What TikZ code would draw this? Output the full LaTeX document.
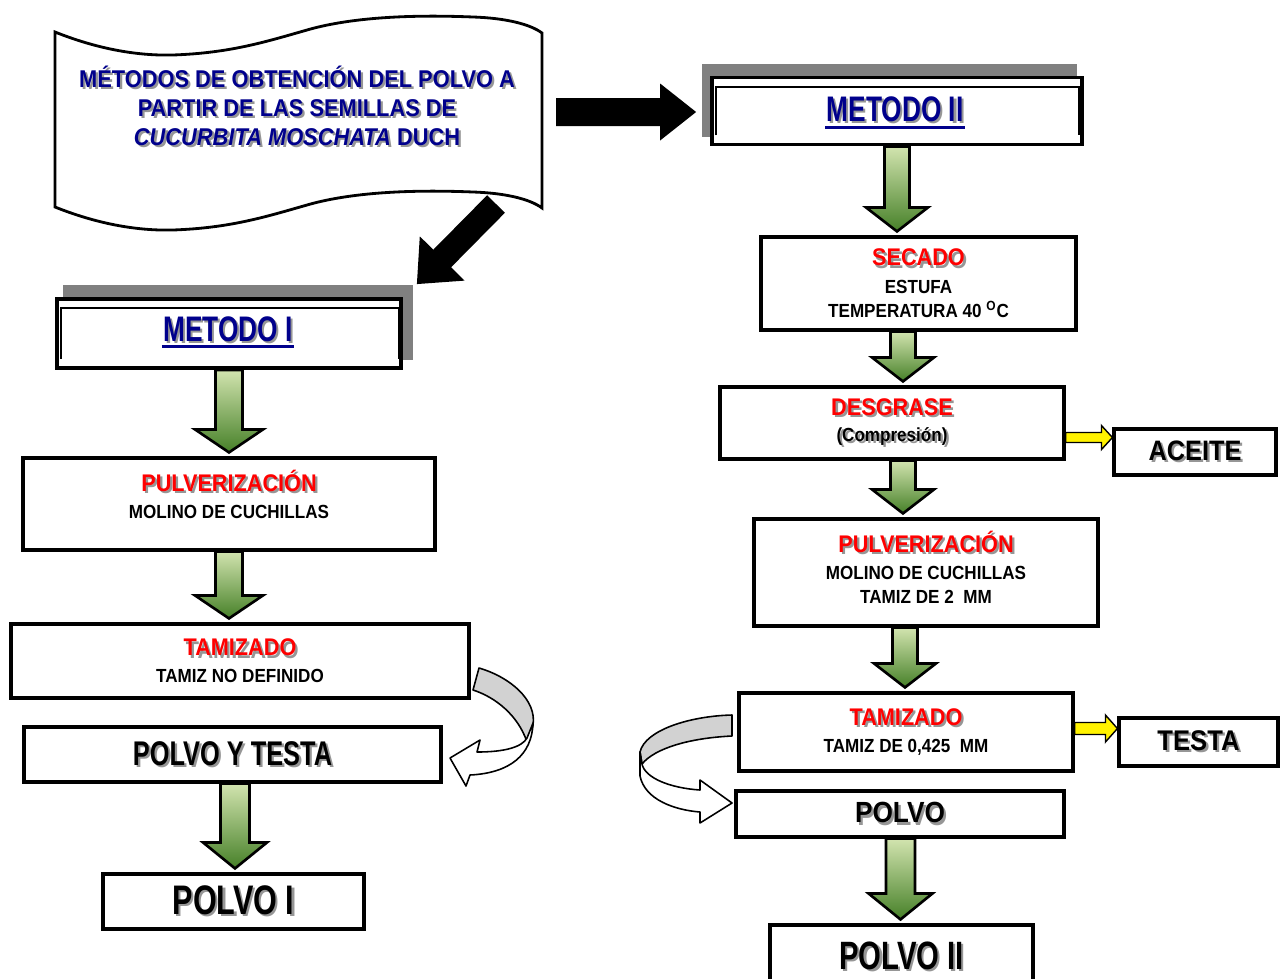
\documentclass[tikz,border=0pt]{standalone}
\usepackage{fontspec}
\setmainfont{Liberation Sans}[FakeStretch=0.9]
\newfontfamily\condfont{Liberation Sans}[FakeStretch=0.74]
\usepackage{tikz}
\usetikzlibrary{calc,positioning}
\usepackage{xcolor}

\definecolor{titleblue}{RGB}{0,0,140}
\definecolor{shadowgray}{RGB}{150,150,150}
\definecolor{boxshadow}{RGB}{128,128,128}
\definecolor{greenlight}{RGB}{210,228,175}
\definecolor{greendark}{RGB}{70,128,40}
\definecolor{bandgray}{RGB}{210,210,210}

\newcommand{\shtext}[2]{\makebox[0pt][l]{\hspace*{1.3pt}\raisebox{-1.3pt}{\textcolor{shadowgray}{#2}}}\textcolor{#1}{#2}}
\newcommand{\hdr}[1]{{\fontsize{13.7}{15}\selectfont\shtext{red}{#1}}}
% flecha gruesa: estilo, inicio, fin, medio ancho, medio ancho punta, largo punta
\newcommand{\fatarrow}[6]{%
  \path #2 coordinate (fa-s) #3 coordinate (fa-t);
  \coordinate (fa-h) at ($(fa-t)!#6!(fa-s)$);
  \path [#1] ($(fa-s)!#4!90:(fa-t)$) -- ($(fa-h)!#4!90:(fa-t)$) -- ($(fa-h)!#5!90:(fa-t)$) -- (fa-t)
    -- ($(fa-h)!#5!-90:(fa-t)$) -- ($(fa-h)!#4!-90:(fa-t)$) -- ($(fa-s)!#4!-90:(fa-t)$) -- cycle;}

\begin{document}
\begin{tikzpicture}[x=0.02cm, y=-0.02cm,
  box/.style={draw, line width=1.8pt, fill=white, align=center, inner sep=0pt, font=\bfseries\fontsize{10.8}{13.8}\selectfont},
  titlebox/.style={draw, line width=2.2pt, fill=white},
  titletext/.style={anchor=base, inner sep=0pt, font=\condfont\bfseries\fontsize{20.2}{22}\selectfont},
  innerline/.style={line width=1.1pt},
  greenarrow/.style={draw=black, line width=1.5pt, top color=greenlight, bottom color=greendark},
  yellowarrow/.style={draw=black, line width=0.8pt, fill=yellow},
  curvedline/.style={draw=black, line width=0.9pt, line join=round}]
\useasboundingbox (0,0) rectangle (1280,978);

\draw [line width=1.6pt, fill=white] (55,32) .. controls (95,48) and (135,56) .. (173,55) .. controls (230,53) and (265,42) .. (307,30) .. controls (345,19) and (400,14) .. (473,17) .. controls (505,18) and (530,24) .. (542,33) -- (542,208) .. controls (530,199) and (505,193) .. (473,192) .. controls (400,189) and (345,194) .. (307,205) .. controls (265,217) and (230,228) .. (173,230) .. controls (135,231) and (95,223) .. (55,207) -- cycle;
\node [align=center, inner sep=0pt, font=\bfseries\fontsize{13.8}{16.5}\selectfont] (titulo) at (297,107) {\shtext{titleblue}{MÉTODOS DE OBTENCIÓN DEL POLVO A}\\ \shtext{titleblue}{PARTIR DE LAS SEMILLAS DE}\\ \shtext{titleblue}{\textit{CUCURBITA MOSCHATA} DUCH}};
\coordinate (bannerE) at (556,112);
\coordinate (bannerS) at (496,204);

% metodo I
\fill [boxshadow] (63,285) rectangle (413,360);
\node [titlebox, minimum width=6.88cm, minimum height=1.38cm] (m1) at (229,333.5) {};
\draw [innerline] ($(m1.south west)+(6,-11)$) |- ($(m1.north east)+(-4,11)$) -- ($(m1.south east)+(-4,-11)$);
\node [titletext] (m1l) at (228,341.7) {\shtext{titleblue}{METODO I}};
\draw [titleblue, line width=1.5pt] ($(m1l.base west)+(-1,5)$) -- ($(m1l.base east)+(1,5)$);

\node [box, minimum width=8.24cm, minimum height=1.84cm, text depth=11pt] (p1) at (229,504) {\hdr{PULVERIZACIÓN}\\[1.5pt] MOLINO DE CUCHILLAS};
\node [box, minimum width=9.16cm, minimum height=1.48cm] (t1) at (240,661) {\hdr{TAMIZADO}\\[1.5pt] TAMIZ NO DEFINIDO};
\node [box, minimum width=8.34cm, minimum height=1.1cm, font=\condfont\bfseries\fontsize{19.5}{21}\selectfont] (pt) at (232.5,754.5) {\shtext{black}{POLVO Y TESTA}};
\node [box, minimum width=5.22cm, minimum height=1.1cm, font=\condfont\bfseries\fontsize{23.5}{25}\selectfont] (pI) at (233.5,901.5) {\shtext{black}{POLVO I}};

% metodo II
\fill [boxshadow] (701.5,64.4) rectangle (1076.6,137);
\node [titlebox, minimum width=7.4cm, minimum height=1.34cm] (m2) at (897,111) {};
\draw [innerline] ($(m2.south west)+(6,-11)$) |- ($(m2.north east)+(-5,11.5)$) -- ($(m2.south east)+(-5,-11)$);
\node [titletext] (m2l) at (895,121.5) {\shtext{titleblue}{METODO II}};
\draw [titleblue, line width=1.5pt] ($(m2l.base west)+(-1,6)$) -- ($(m2l.base east)+(1,6)$);

\node [box, minimum width=6.3cm, minimum height=1.86cm] (sec) at (918.5,283.5) {\hdr{SECADO}\\[2pt] ESTUFA\\ TEMPERATURA 40 \textsuperscript{O}C};
\node [box, minimum width=6.88cm, minimum height=1.44cm] (des) at (892,423) {\hdr{DESGRASE}\\[1pt] \shtext{black}{(Compresión)}};
\node [box, minimum width=3.24cm, minimum height=0.92cm, font=\bfseries\fontsize{16}{18}\selectfont] (ace) at (1195,452) {\shtext{black}{ACEITE}};
\node [box, minimum width=6.88cm, minimum height=2.14cm, text depth=6pt] (p2) at (926,572.5) {\hdr{PULVERIZACIÓN}\\[1.5pt] MOLINO DE CUCHILLAS\\ TAMIZ DE 2\ \ MM};
\node [box, minimum width=6.68cm, minimum height=1.56cm] (t2) at (906,732) {\hdr{TAMIZADO}\\[2pt] TAMIZ DE 0,425\ \ MM};
\node [box, minimum width=3.18cm, minimum height=0.96cm, font=\bfseries\fontsize{16.2}{18}\selectfont] (tes) at (1198.5,742) {\shtext{black}{TESTA}};
\node [box, minimum width=6.56cm, minimum height=0.92cm, font=\bfseries\fontsize{16.6}{18}\selectfont] (pol) at (900,814) {\shtext{black}{POLVO}};
\node [box, minimum width=5.26cm, minimum height=1.28cm, font=\condfont\bfseries\fontsize{22.5}{24}\selectfont] (p2f) at (901.5,957) {\shtext{black}{POLVO II}};

% flechas negras
\fatarrow{fill=black}{(bannerE)}{($(m2.west)+(-14,1)$)}{0.28cm}{0.57cm}{0.72cm}
\fatarrow{fill=black}{(bannerS)}{($(m1.north east)+(14,-13)$)}{0.25cm}{0.63cm}{0.72cm}

% flechas verdes
\fatarrow{greenarrow}{(m1.south)}{($(m1.south |- p1.north)+(0,-4)$)}{0.27cm}{0.68cm}{0.46cm}
\fatarrow{greenarrow}{(p1.south)}{($(t1.north)+(-11,-4)$)}{0.27cm}{0.68cm}{0.46cm}
\fatarrow{greenarrow}{($(pt.south)+(2.5,0)$)}{($(pI.north)+(1.5,-4)$)}{0.29cm}{0.64cm}{0.52cm}
\fatarrow{greenarrow}{(m2.south)}{($(sec.north)+(-21.5,-4)$)}{0.25cm}{0.62cm}{0.48cm}
\fatarrow{greenarrow}{($(sec.south)+(-15.5,0)$)}{($(des.north)+(11,-4)$)}{0.25cm}{0.62cm}{0.48cm}
\fatarrow{greenarrow}{($(des.south)+(11,0)$)}{($(p2.north)+(-23,-4)$)}{0.25cm}{0.62cm}{0.48cm}
\fatarrow{greenarrow}{($(p2.south)+(-21,0)$)}{($(t2.north)+(-1,-4)$)}{0.25cm}{0.62cm}{0.48cm}
\fatarrow{greenarrow}{($(pol.south)+(0.5,0)$)}{($(p2f.north)+(-1,-4)$)}{0.29cm}{0.64cm}{0.52cm}

% flechas amarillas
\fatarrow{yellowarrow}{($(des.east)+(0,14.5)$)}{($(ace.west)+(0,-14.5)$)}{0.1cm}{0.24cm}{0.22cm}
\fatarrow{yellowarrow}{($(t2.east)+(0,-3.5)$)}{($(tes.west)+(0,-13.5)$)}{0.12cm}{0.27cm}{0.24cm}

% flechas curvas
\draw [curvedline, fill=bandgray] (479,668) .. controls (510,677) and (537,700) .. (533,725) -- (527,742) .. controls (518,715) and (495,697) .. (473,690) -- cycle;
\draw [curvedline, fill=white] (533,723) .. controls (532,755) and (510,773) .. (470,775) -- (466,786) -- (450,758) -- (480,740) -- (477,752) .. controls (505,752) and (522,747) .. (527,738) -- cycle;
\draw [curvedline, fill=bandgray] (732,715) .. controls (690,716) and (645,730) .. (640,752) -- (642,764) .. controls (655,748) and (690,738) .. (732,736) -- cycle;
\draw [curvedline, fill=white] (640,752) -- (640,776) .. controls (645,800) and (675,810) .. (700,812) -- (700,823) -- (732,803) -- (700,780) -- (700,790) .. controls (670,788) and (645,778) .. (642,764) -- cycle;

\end{tikzpicture}
\end{document}
